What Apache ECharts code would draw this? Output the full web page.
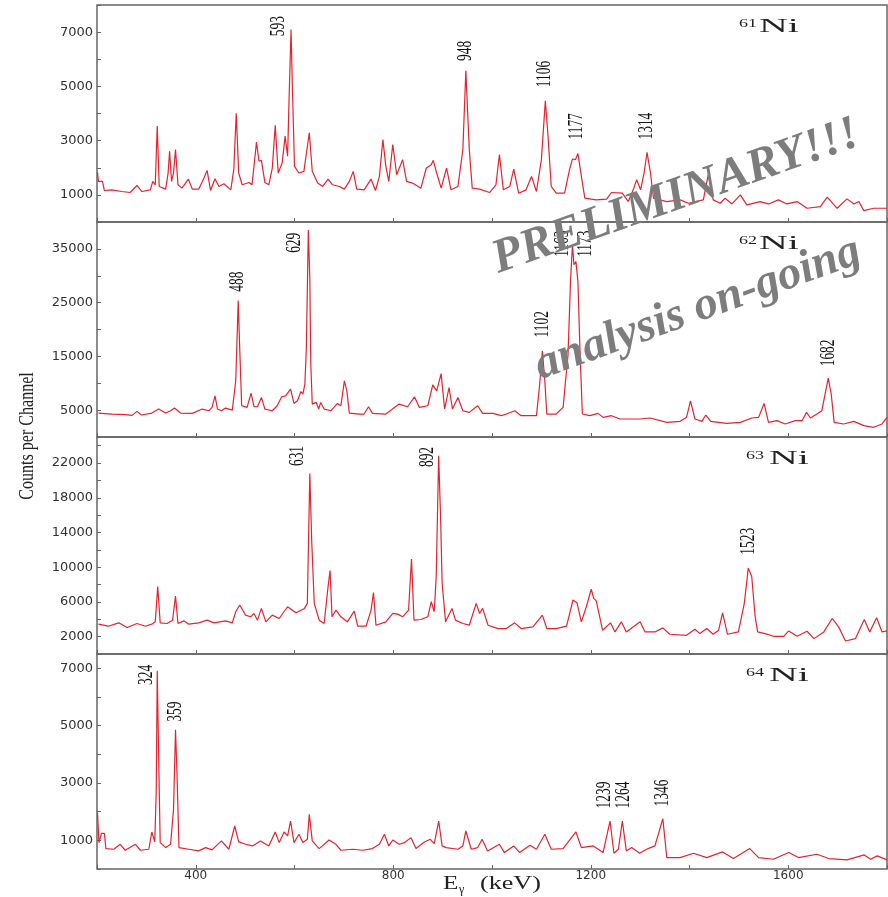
<!DOCTYPE html>
<html>
<head>
<meta charset="utf-8">
<script src="https://cdn.jsdelivr.net/npm/echarts@6/dist/echarts.min.js"></script>
<style>
  html, body { margin: 0; padding: 0; background: #fff; }
  #chart { width: 888px; height: 897px; }
</style>
</head>
<body>
<div id="chart"></div>
<script>
// gamma spectra, [energy keV, counts per channel]
const ni61 = [
  [201, 1829], [203, 1495], [211, 1495], [215, 1161], [230, 1186], [250, 1124], [267, 1087], [281, 1347],
  [291, 1124], [308, 1186], [313, 1495], [318, 1372], [322, 3536], [326, 1310], [339, 1211], [344, 1805],
  [347, 2609], [351, 1495], [355, 1805], [359, 2670], [364, 1372], [372, 1248], [385, 1582], [393, 1211],
  [406, 1211], [416, 1594], [423, 1904], [430, 1161], [439, 1594], [447, 1310], [457, 1409], [471, 1186],
  [477, 1928], [482, 4006], [487, 1805], [494, 1372], [508, 1458], [514, 1372], [523, 2943], [528, 2238],
  [533, 2275], [540, 1458], [548, 1372], [555, 1990], [561, 3561], [567, 1805], [575, 2176], [581, 3165],
  [586, 2423], [589, 4526], [593, 7099], [596, 4773], [600, 2052], [609, 1805], [619, 1867], [630, 3289],
  [636, 1867], [647, 1434], [657, 1310], [668, 1582], [677, 1372], [691, 1310], [701, 1211], [711, 1495],
  [719, 1867], [726, 1211], [741, 1186], [755, 1582], [764, 1161], [772, 1681], [779, 3042], [785, 2052],
  [791, 1495], [799, 2856], [807, 1743], [819, 2299], [827, 1495], [839, 1434], [856, 1248], [867, 1990],
  [877, 2114], [881, 2275], [888, 1805], [897, 1248], [908, 1990], [917, 1186], [931, 1310], [941, 2670],
  [947, 5577], [954, 2670], [960, 1248], [975, 1211], [995, 1087], [1008, 1372], [1015, 2485], [1023, 1186],
  [1036, 1310], [1044, 1953], [1054, 1062], [1069, 1186], [1080, 1681], [1090, 1124], [1100, 2299], [1108, 4464],
  [1113, 3289], [1120, 1310], [1130, 1062], [1147, 1062], [1157, 1928], [1163, 2324], [1169, 2299], [1174, 2522],
  [1181, 1681], [1188, 877], [1211, 815], [1232, 840], [1242, 1087], [1264, 1062], [1276, 753], [1286, 1186],
  [1293, 1557], [1301, 1186], [1308, 1805], [1314, 2572], [1321, 1805], [1327, 877], [1354, 753], [1381, 815],
  [1398, 691], [1428, 815], [1438, 1743], [1448, 815], [1462, 691], [1472, 877], [1486, 666], [1503, 1000],
  [1516, 629], [1543, 753], [1560, 666], [1580, 815], [1597, 666], [1618, 753], [1638, 506], [1665, 568],
  [1679, 914], [1699, 506], [1719, 852], [1733, 666], [1743, 753], [1753, 419], [1773, 506], [1800, 506]
];
const ni62 = [
  [203, 4458], [230, 4273], [257, 4150], [271, 4026], [281, 4767], [290, 4088], [311, 4458], [325, 5198],
  [339, 4458], [349, 4890], [357, 5383], [369, 4458], [393, 4396], [413, 5198], [427, 4890], [433, 5507],
  [439, 7666], [444, 5198], [452, 4890], [460, 5383], [474, 5013], [481, 10443], [486, 25374], [489, 16613],
  [493, 5816], [504, 5507], [512, 8160], [518, 5631], [525, 5631], [533, 7358], [540, 5198], [555, 4890],
  [565, 5816], [574, 7481], [582, 7666], [592, 8900], [599, 6247], [606, 6741], [613, 8468], [617, 7975],
  [621, 9826], [624, 16613], [628, 38517], [631, 29570], [633, 13528], [636, 6124], [644, 6433], [649, 5198],
  [653, 6433], [660, 5198], [674, 4890], [687, 6247], [694, 5816], [701, 10443], [706, 8592], [711, 4458],
  [731, 4273], [741, 4273], [750, 5631], [758, 4396], [785, 4273], [812, 6124], [829, 5631], [843, 7481],
  [853, 5507], [870, 5816], [880, 9703], [888, 8592], [897, 11800], [904, 5198], [913, 9209], [920, 5198],
  [931, 7358], [941, 4890], [954, 4581], [971, 5816], [981, 4396], [1002, 4396], [1019, 3964], [1029, 4273],
  [1046, 4890], [1059, 3964], [1090, 3964], [1096, 9209], [1102, 15996], [1107, 10443], [1111, 4273], [1130, 4273],
  [1144, 5507], [1154, 15379], [1159, 28953], [1163, 35740], [1166, 32038], [1170, 32655], [1174, 28953], [1178, 16613],
  [1183, 4273], [1198, 3964], [1215, 4396], [1225, 3656], [1242, 3964], [1259, 3348], [1300, 3348], [1320, 3532],
  [1354, 2730], [1381, 2916], [1394, 3656], [1402, 6741], [1411, 3348], [1425, 2916], [1433, 4088], [1443, 2916],
  [1475, 2545], [1503, 2730], [1526, 3532], [1540, 3656], [1551, 6247], [1560, 2730], [1577, 3040], [1594, 2422],
  [1614, 3040], [1628, 3040], [1637, 4581], [1645, 3532], [1658, 4273], [1668, 4890], [1681, 10936], [1687, 7975],
  [1693, 2730], [1712, 2422], [1733, 2916], [1753, 2114], [1773, 1805], [1790, 2422], [1800, 3656]
];
const ni63 = [
  [203, 3434], [223, 3202], [244, 3589], [261, 3047], [281, 3512], [298, 3202], [311, 3434], [318, 3705],
  [323, 7766], [328, 3589], [342, 3512], [353, 3899], [359, 6683], [364, 3512], [376, 3821], [386, 3434],
  [406, 3589], [423, 3899], [437, 3589], [460, 3821], [474, 3589], [481, 4865], [489, 5639], [501, 4479],
  [511, 4285], [518, 4672], [525, 3899], [533, 5252], [542, 3705], [555, 4479], [569, 4092], [586, 5446],
  [603, 4749], [620, 5252], [626, 5833], [631, 20802], [635, 12795], [640, 5833], [650, 3899], [660, 3512],
  [668, 7766], [672, 9623], [676, 4285], [684, 5059], [694, 4285], [707, 3705], [721, 4942], [728, 3202],
  [745, 3202], [755, 5059], [760, 7070], [765, 3318], [785, 3705], [799, 4672], [809, 4595], [819, 4285],
  [831, 5059], [837, 10938], [842, 3899], [856, 3976], [870, 4285], [877, 6026], [883, 4865], [887, 8927],
  [892, 22852], [896, 15502], [899, 8153], [906, 3705], [910, 3589], [919, 5252], [926, 3899], [941, 3512],
  [954, 3318], [968, 5833], [975, 4672], [981, 5252], [992, 3318], [1012, 2931], [1029, 2931], [1046, 3589],
  [1059, 2931], [1083, 3125], [1102, 4479], [1111, 2931], [1130, 2931], [1151, 3202], [1164, 6220], [1172, 5910],
  [1181, 3705], [1191, 5446], [1201, 7457], [1206, 6412], [1211, 6142], [1224, 2738], [1240, 3589], [1249, 2544],
  [1262, 3705], [1272, 2544], [1300, 3705], [1310, 2544], [1330, 2544], [1346, 3009], [1360, 2274], [1394, 2157],
  [1411, 2854], [1421, 2351], [1435, 2931], [1448, 2274], [1459, 2738], [1467, 4749], [1477, 2274], [1499, 2544],
  [1511, 5833], [1519, 9893], [1526, 8927], [1533, 4285], [1538, 2544], [1553, 2351], [1570, 2041], [1591, 2041],
  [1601, 2661], [1618, 2041], [1638, 2622], [1652, 1771], [1672, 2544], [1689, 4092], [1702, 3125], [1716, 1500],
  [1736, 1771], [1754, 3976], [1765, 2544], [1779, 4169], [1790, 2544], [1800, 2661]
];
const ni64 = [
  [201, 1963], [204, 921], [209, 1245], [215, 1245], [218, 712], [234, 689], [247, 863], [257, 654],
  [278, 863], [288, 654], [305, 689], [311, 1291], [317, 944], [320, 2773], [322, 6919], [325, 3816],
  [328, 921], [339, 747], [349, 863], [355, 2079], [359, 4858], [362, 3352], [366, 747], [386, 689],
  [406, 631], [420, 747], [433, 666], [452, 979], [467, 689], [479, 1500], [487, 944], [501, 863],
  [515, 805], [531, 979], [548, 805], [561, 1291], [569, 921], [579, 1291], [586, 1152], [592, 1673],
  [599, 921], [609, 1210], [617, 921], [626, 1036], [630, 1905], [636, 979], [650, 712], [670, 1013],
  [684, 863], [694, 654], [718, 689], [738, 654], [758, 712], [772, 863], [782, 1210], [791, 805],
  [799, 1013], [812, 863], [823, 921], [836, 1094], [846, 712], [863, 944], [875, 1036], [883, 886],
  [892, 1673], [899, 805], [907, 747], [931, 689], [941, 805], [947, 1326], [958, 689], [971, 747],
  [980, 1036], [991, 631], [1015, 863], [1025, 573], [1044, 805], [1056, 573], [1077, 828], [1090, 689],
  [1107, 1210], [1120, 689], [1144, 712], [1161, 1094], [1170, 1291], [1181, 747], [1205, 805], [1225, 573],
  [1239, 1673], [1247, 550], [1256, 689], [1264, 1673], [1272, 631], [1283, 747], [1299, 550], [1316, 712],
  [1330, 805], [1346, 1754], [1354, 399], [1381, 399], [1408, 550], [1435, 399], [1467, 596], [1489, 365],
  [1522, 712], [1540, 399], [1570, 341], [1601, 573], [1621, 399], [1658, 515], [1682, 365], [1719, 319],
  [1754, 492], [1767, 341], [1780, 457], [1800, 319]
];

// peak labels: [energy, counts at foot of label, text]
const peaks61 = [[568, 6850, '593'], [946, 5936, '948'], [1106, 4971, '1106'], [1171, 3042, '1177'], [1314, 3042, '1314']];
const peaks62 = [[485, 27040, '488'], [601, 34259, '629'], [1102, 18526, '1102'], [1143, 33519, '1163'], [1190, 33519, '1173'], [1683, 13158, '1682']];
const peaks63 = [[607, 21652, '631'], [869, 21536, '892'], [1519, 11441, '1523']];
const peaks64 = [[301, 6421, '324'], [359, 5136, '359'], [1228, 2113, '1239'], [1267, 2113, '1264'], [1346, 2183, '1346']];

const isotopes = ['61', '62', '63', '64'];
const energyTicks = [400, 800, 1200, 1600];
const countTicks61 = [1000, 3000, 5000, 7000];
const countTicks62 = [5000, 15000, 25000, 35000];
const countTicks63 = [2000, 6000, 10000, 14000, 18000, 22000];
const countTicks64 = [1000, 3000, 5000, 7000];
const countMax = [8000, 40000, 25000, 7500];
const countStep = [1000, 5000, 2000, 1000];

const spectra = [ni61, ni62, ni63, ni64];
const peakLabels = [peaks61, peaks62, peaks63, peaks64];
const countTicks = [countTicks61, countTicks62, countTicks63, countTicks64];

const panelTop = [5, 222, 437, 654];
const panelHeight = [217, 215, 217, 215];
const serif = "'Liberation Serif', 'Times New Roman', serif";
const frame = '#666';

const chart = echarts.init(document.getElementById('chart'));

const option = {
  animation: false,
  backgroundColor: '#fff',
  grid: panelTop.map((t, i) => ({
    left: 97, right: 1, top: t, height: panelHeight[i],
    show: true, borderColor: frame, borderWidth: 1.5,
    containLabel: false, outerBoundsMode: 'none'
  })),
  xAxis: spectra.map((s, i) => ({
    type: 'value', gridIndex: i, min: 200, max: 1800, interval: 200,
    axisLine: { show: false },
    axisTick: { show: true, inside: true, length: 4, lineStyle: { color: frame, width: 1 } },
    splitLine: { show: false },
    axisLabel: {
      show: i === 3, margin: 1, color: '#333', fontSize: 12, fontFamily: 'DejaVu Sans',
      formatter: (v) => energyTicks.includes(v) ? String(v) : ''
    }
  })),
  yAxis: spectra.map((s, i) => ({
    type: 'value', gridIndex: i, min: 0, max: countMax[i], interval: countStep[i],
    axisLine: { show: false },
    axisTick: { show: true, inside: true, length: 4, lineStyle: { color: frame, width: 1 } },
    splitLine: { show: false },
    axisLabel: {
      margin: 4, color: '#333', fontSize: 13, fontFamily: 'DejaVu Sans',
      formatter: (v) => countTicks[i].includes(v) ? String(v) : ''
    }
  })),
  series: spectra.map((s, i) => ({
    name: isotopes[i] + 'Ni',
    type: 'line',
    xAxisIndex: i,
    yAxisIndex: i,
    data: s,
    showSymbol: false,
    symbol: 'none',
    lineStyle: { width: 1.2, color: '#e3232f' },
    itemStyle: { color: '#e3232f' }
  }))
};
chart.setOption(option);

const graphic = [];

// peak energies, rotated and squeezed like the original slide
peakLabels.forEach((list, i) => {
  list.forEach(([e, v, txt]) => {
    const p = chart.convertToPixel({ gridIndex: i }, [e, v]);
    graphic.push({
      type: 'text', x: p[0], y: p[1], rotation: Math.PI / 2, scaleX: 0.67, z: 10,
      style: { text: txt, fill: '#111', fontFamily: serif, fontSize: 20, textAlign: 'left', textVerticalAlign: 'middle' }
    });
  });
});

// isotope tags
const tagX = [[739, 759], [739, 759], [746, 769], [746, 769]];
isotopes.forEach((mass, i) => {
  const t = panelTop[i];
  graphic.push({
    type: 'text', x: tagX[i][0], y: t + 19, scaleX: 1.5, z: 10,
    style: { text: mass, fill: '#222', fontFamily: serif, fontSize: 12, textAlign: 'left', textVerticalAlign: 'middle' }
  });
  graphic.push({
    type: 'text', x: tagX[i][1], y: t + 22.5, scaleX: 2.1, z: 10,
    style: { text: 'Ni', fill: '#222', fontFamily: serif, fontSize: 19, textAlign: 'left', textVerticalAlign: 'middle' }
  });
});

// axis titles
graphic.push({
  type: 'text', x: 27, y: 436, rotation: Math.PI / 2, scaleX: 0.73, z: 10,
  style: { text: 'Counts per Channel', fill: '#222', fontFamily: serif, fontSize: 22, textAlign: 'center', textVerticalAlign: 'middle' }
});
graphic.push({
  type: 'text', x: 443, y: 884, scaleX: 1.4, z: 10,
  style: { text: 'E', fill: '#222', fontFamily: serif, fontSize: 18, textAlign: 'left', textVerticalAlign: 'middle' }
});
graphic.push({
  type: 'text', x: 459, y: 890, z: 10,
  style: { text: 'γ', fill: '#222', fontFamily: serif, fontSize: 12, textAlign: 'left', textVerticalAlign: 'middle' }
});
graphic.push({
  type: 'text', x: 480, y: 884, scaleX: 1.45, z: 10,
  style: { text: '(keV)', fill: '#222', fontFamily: serif, fontSize: 18, textAlign: 'left', textVerticalAlign: 'middle' }
});

// watermark
graphic.push({
  type: 'text', x: 676, y: 197, rotation: 19.5 * Math.PI / 180, z: 100,
  style: { text: 'PRELIMINARY!!!', fill: '#7d7d7d', fontFamily: serif, fontSize: 48, fontWeight: 'bold', fontStyle: 'italic', textAlign: 'center', textVerticalAlign: 'middle' }
});
graphic.push({
  type: 'text', x: 698, y: 309, rotation: 20 * Math.PI / 180, z: 100,
  style: { text: 'analysis on-going', fill: '#7d7d7d', fontFamily: serif, fontSize: 47, fontWeight: 'bold', fontStyle: 'italic', textAlign: 'center', textVerticalAlign: 'middle' }
});

chart.setOption({ graphic: graphic });
window.onresize = chart.resize;
</script>
</body>
</html>
